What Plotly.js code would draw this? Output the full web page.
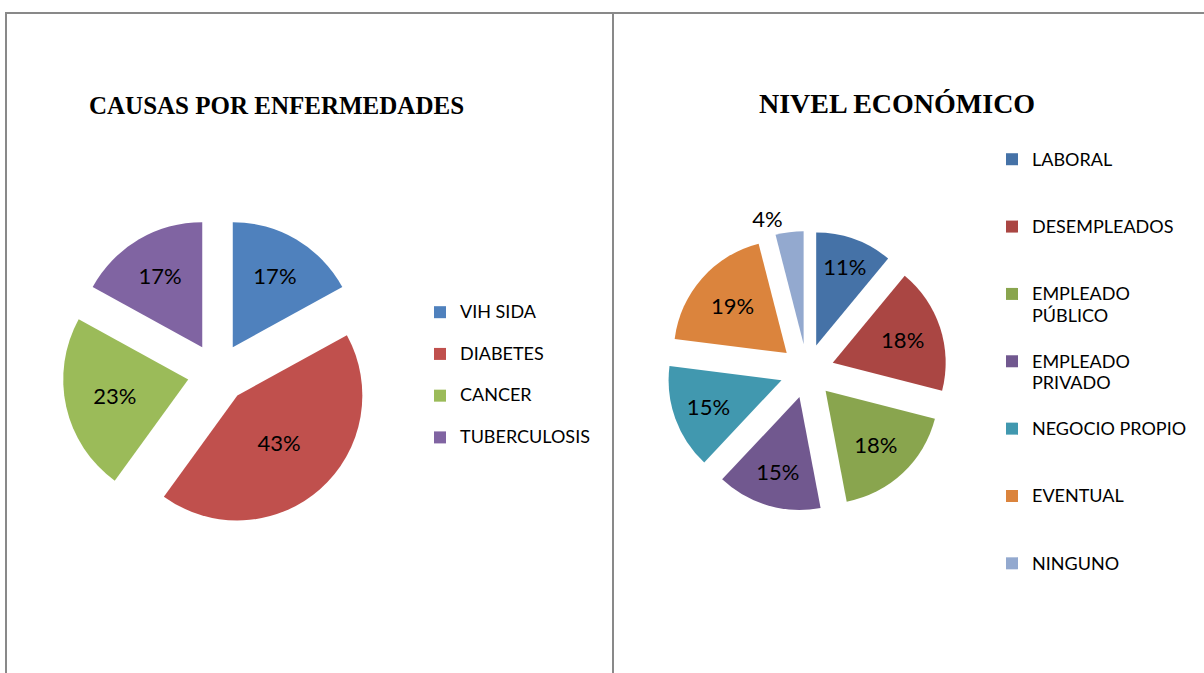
<!DOCTYPE html>
<html>
<head>
<meta charset="utf-8">
<script src="https://cdn.plot.ly/plotly-3.0.1.min.js"></script>
<style>
  html, body { margin: 0; padding: 0; background: #fff; }
  #grafico { width: 1204px; height: 673px; }
</style>
</head>
<body>
<div id="grafico"></div>
<script>
// Datos de los dos gráficos
const causas = ['VIH SIDA', 'DIABETES', 'CANCER', 'TUBERCULOSIS'];
const causasValores = [17, 43, 23, 17];
const causasColores = ['#4F81BD', '#C0504D', '#9BBB59', '#8064A2'];

const niveles = ['LABORAL', 'DESEMPLEADOS', 'EMPLEADO<br>PÚBLICO', 'EMPLEADO<br>PRIVADO', 'NEGOCIO PROPIO', 'EVENTUAL', 'NINGUNO'];
const nivelesValores = [11, 18, 18, 15, 15, 19, 4];
const nivelesColores = ['#4572A7', '#AA4643', '#89A54E', '#71588F', '#4198AF', '#DB843D', '#93A9CF'];

const W = 1204, H = 673;
const fuente = 'Lato, "Open Sans", sans-serif';
const fuenteTitulo = '"Liberation Serif", "Times New Roman", serif';

// texto de leyenda a 18px, rellenado con lineas vacias para espaciar las entradas
function etiquetaLeyenda(texto, lineas) {
    const partes = texto.split('<br>').map(p => '<span style="font-size:18px">' + p + '</span>');
    while (partes.length < lineas) partes.push('\u00a0');
    return partes.join('<br>');
}

const tarta1 = {
    type: 'pie',
    labels: causas.map(c => etiquetaLeyenda(c, 2)),
    values: causasValores,
    marker: {colors: causasColores},
    sort: false,
    direction: 'clockwise',
    rotation: 0,
    pull: 0.24,
    texttemplate: '%{percent:.0%}',
    textposition: 'inside',
    insidetextorientation: 'horizontal',
    textfont: {family: fuente, size: 22, color: '#000'},
    hoverinfo: 'none',
    domain: {x: [62.5 / W, 372.5 / W], y: [1 - 528 / H, 1 - 218 / H]},
    legend: 'legend'
};

const tarta2 = {
    type: 'pie',
    labels: niveles.map(n => etiquetaLeyenda(n, 3)),
    values: nivelesValores,
    marker: {colors: nivelesColores},
    sort: false,
    direction: 'clockwise',
    rotation: 0,
    pull: 0.24,
    texttemplate: '%{percent:.0%}',
    textposition: ['inside', 'inside', 'inside', 'inside', 'inside', 'inside', 'outside'],
    insidetextorientation: 'horizontal',
    textfont: {family: fuente, size: 22, color: '#000'},
    hoverinfo: 'none',
    domain: {x: [667 / W, 947 / W], y: [1 - 511 / H, 1 - 231 / H]},
    legend: 'legend2'
};

const marco = {color: '#898989', width: 2};

const layout = {
    width: W,
    height: H,
    margin: {l: 0, r: 0, t: 0, b: 0},
    paper_bgcolor: '#fff',
    font: {family: fuente, color: '#000'},
    showlegend: true,
    legend: {
        x: 420 / W, y: 1 - 296 / H, xanchor: 'left', yanchor: 'top',
        font: {family: fuente, size: 14.9, color: '#000'},
        valign: 'top', bgcolor: 'rgba(0,0,0,0)'
    },
    legend2: {
        x: 992 / W, y: 1 - 142 / H, xanchor: 'left', yanchor: 'top',
        font: {family: fuente, size: 16.5, color: '#000'},
        valign: 'top', bgcolor: 'rgba(0,0,0,0)'
    },
    annotations: [
        {text: '<b>CAUSAS POR ENFERMEDADES</b>', x: 276 / W, y: 1 - 105 / H, xref: 'paper', yref: 'paper',
         xanchor: 'center', yanchor: 'middle',
         showarrow: false, font: {family: fuenteTitulo, size: 25, color: '#000'}},
        {text: '<b>NIVEL ECONÓMICO</b>', x: 897 / W, y: 1 - 103 / H, xref: 'paper', yref: 'paper',
         xanchor: 'center', yanchor: 'middle',
         showarrow: false, font: {family: fuenteTitulo, size: 28, color: '#000'}}
    ],
    shapes: [
        {type: 'line', xref: 'paper', yref: 'paper', x0: 5 / W, x1: 1, y0: 1 - 13 / H, y1: 1 - 13 / H, line: marco},
        {type: 'line', xref: 'paper', yref: 'paper', x0: 6 / W, x1: 6 / W, y0: 0, y1: 1 - 13 / H, line: marco},
        {type: 'line', xref: 'paper', yref: 'paper', x0: 613 / W, x1: 613 / W, y0: 0, y1: 1 - 13 / H, line: marco}
    ]
};

Plotly.newPlot('grafico', [tarta1, tarta2], layout, {displayModeBar: false, staticPlot: true});
</script>
</body>
</html>
